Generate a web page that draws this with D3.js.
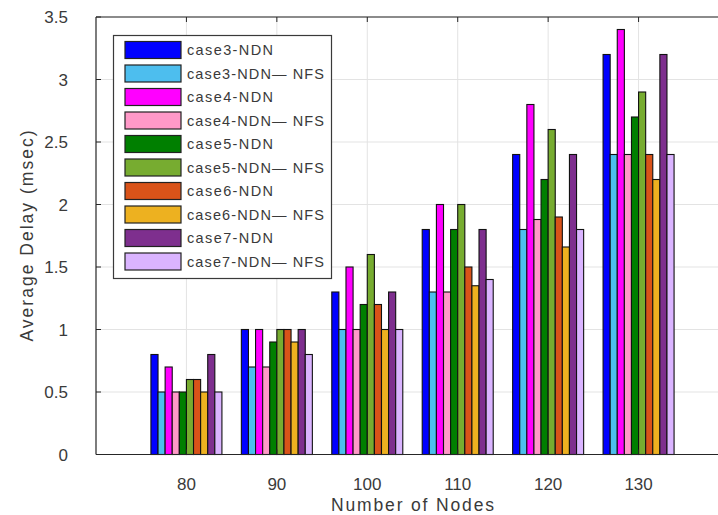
<!DOCTYPE html>
<html>
<head>
<meta charset="utf-8">
<script src="https://cdn.jsdelivr.net/npm/d3@7"></script>
<style>
  body { margin: 0; background: #fff; }
  text { font-family: "Liberation Sans", Arial, sans-serif; fill: #3a3a3a; }
</style>
</head>
<body>
<script>
// node counts on the x axis
const nodes = [80, 90, 100, 110, 120, 130];

const seriesNames = [
  'case3-NDN', 'case3-NDN\u2014 NFS',
  'case4-NDN', 'case4-NDN\u2014 NFS',
  'case5-NDN', 'case5-NDN\u2014 NFS',
  'case6-NDN', 'case6-NDN\u2014 NFS',
  'case7-NDN', 'case7-NDN\u2014 NFS'
];

const colors = ['#0000ff', '#4dbeee', '#ff00ff', '#ff99c8', '#007f00',
  '#77ac30', '#d95319', '#edb120', '#7e2f8e', '#dab4ff'];

// average delay (msec), one array per series, in node order
const case3NDN    = [0.8, 1.0, 1.3, 1.8, 2.4, 3.2];
const case3NDNNFS = [0.5, 0.7, 1.0, 1.3, 1.8, 2.4];
const case4NDN    = [0.7, 1.0, 1.5, 2.0, 2.8, 3.4];
const case4NDNNFS = [0.5, 0.7, 1.0, 1.3, 1.88, 2.4];
const case5NDN    = [0.5, 0.9, 1.2, 1.8, 2.2, 2.7];
const case5NDNNFS = [0.6, 1.0, 1.6, 2.0, 2.6, 2.9];
const case6NDN    = [0.6, 1.0, 1.2, 1.5, 1.9, 2.4];
const case6NDNNFS = [0.5, 0.9, 1.0, 1.35, 1.66, 2.2];
const case7NDN    = [0.8, 1.0, 1.3, 1.8, 2.4, 3.2];
const case7NDNNFS = [0.5, 0.8, 1.0, 1.4, 1.8, 2.4];

const series = [case3NDN, case3NDNNFS, case4NDN, case4NDNNFS, case5NDN,
  case5NDNNFS, case6NDN, case6NDNNFS, case7NDN, case7NDNNFS];

const yTicks = [0, 0.5, 1, 1.5, 2, 2.5, 3, 3.5];

const width = 718, height = 515;
const plotL = 96, plotT = 17, plotB = 454.5, plotR = 729;

const svg = d3.select('body').append('svg')
  .attr('width', width)
  .attr('height', height);

const x = d3.scaleLinear().domain([70, 140]).range([plotL, plotR]);
const y = d3.scaleLinear().domain([0, 3.5]).range([plotB, plotT]);
const xInner = d3.scaleBand().domain(d3.range(series.length)).range([-35.5, 35.5]);

// grid
svg.append('g').selectAll('line')
  .data(yTicks.slice(1))
  .join('line')
  .attr('x1', plotL).attr('x2', width)
  .attr('y1', d => y(d)).attr('y2', d => y(d))
  .attr('stroke', '#e3e3e3');
svg.append('g').selectAll('line')
  .data(nodes)
  .join('line')
  .attr('x1', d => x(d)).attr('x2', d => x(d))
  .attr('y1', plotT).attr('y2', plotB)
  .attr('stroke', '#e3e3e3');

// bars
const bars = [];
series.forEach((vals, s) => {
  vals.forEach((v, i) => bars.push({ s, node: nodes[i], v }));
});
svg.append('g').selectAll('rect')
  .data(bars)
  .join('rect')
  .attr('x', d => x(d.node) + xInner(d.s))
  .attr('y', d => y(d.v))
  .attr('width', xInner.bandwidth())
  .attr('height', d => y(0) - y(d.v))
  .attr('fill', d => colors[d.s])
  .attr('stroke', '#111')
  .attr('stroke-width', 1.1);

// axes frame
const axisColor = '#262626';
svg.append('line').attr('x1', plotL).attr('x2', width).attr('y1', plotT).attr('y2', plotT)
  .attr('stroke', axisColor).attr('stroke-width', 1.2);
svg.append('line').attr('x1', plotL).attr('x2', width).attr('y1', plotB).attr('y2', plotB)
  .attr('stroke', axisColor).attr('stroke-width', 1.2);
svg.append('line').attr('x1', plotL).attr('x2', plotL).attr('y1', plotT).attr('y2', plotB)
  .attr('stroke', axisColor).attr('stroke-width', 1.2);

// inward ticks
svg.append('g').selectAll('line')
  .data(nodes)
  .join('line')
  .attr('x1', d => x(d)).attr('x2', d => x(d))
  .attr('y1', plotT).attr('y2', plotT + 5)
  .attr('stroke', axisColor);
svg.append('g').selectAll('line')
  .data(nodes)
  .join('line')
  .attr('x1', d => x(d)).attr('x2', d => x(d))
  .attr('y1', plotB).attr('y2', plotB - 5)
  .attr('stroke', axisColor);
svg.append('g').selectAll('line')
  .data(yTicks)
  .join('line')
  .attr('x1', plotL).attr('x2', plotL + 5)
  .attr('y1', d => y(d)).attr('y2', d => y(d))
  .attr('stroke', axisColor);

// tick labels
svg.append('g').selectAll('text')
  .data(yTicks)
  .join('text')
  .attr('x', 68)
  .attr('y', d => y(d))
  .attr('dy', '0.36em')
  .attr('text-anchor', 'end')
  .style('font-size', '17px')
  .text(d => d);
svg.append('g').selectAll('text')
  .data(nodes)
  .join('text')
  .attr('x', d => x(d))
  .attr('y', 489.5)
  .attr('text-anchor', 'middle')
  .style('font-size', '17px')
  .text(d => d);

// axis titles
svg.append('text')
  .attr('x', x(105) - 81.5)
  .attr('y', 510.5)
  .attr('textLength', 163)
  .attr('lengthAdjust', 'spacing')
  .style('font-size', '17.5px')
  .text('Number of Nodes');
svg.append('text')
  .attr('transform', 'translate(33,341.5) rotate(-90)')
  .attr('textLength', 211)
  .attr('lengthAdjust', 'spacing')
  .style('font-size', '17.5px')
  .text('Average Delay (msec)');

// legend
const legend = svg.append('g');
legend.append('rect')
  .attr('x', 113.5).attr('y', 35.5)
  .attr('width', 218).attr('height', 243)
  .attr('fill', '#fff')
  .attr('stroke', '#3a3a3a')
  .attr('stroke-width', 1.2);
const rows = legend.selectAll('g')
  .data(seriesNames)
  .join('g')
  .attr('transform', (d, i) => `translate(0,${50 + i * 23.5})`);
rows.append('rect')
  .attr('x', 125).attr('y', -8.5)
  .attr('width', 56).attr('height', 17)
  .attr('fill', (d, i) => colors[i])
  .attr('stroke', '#222')
  .attr('stroke-width', 1.2);
rows.append('text')
  .attr('x', 187)
  .attr('y', 0)
  .attr('dy', '0.36em')
  .attr('textLength', d => d.includes('NFS') ? 137 : 86)
  .attr('lengthAdjust', 'spacing')
  .style('font-size', '14.5px')
  .text(d => d);
</script>
</body>
</html>
